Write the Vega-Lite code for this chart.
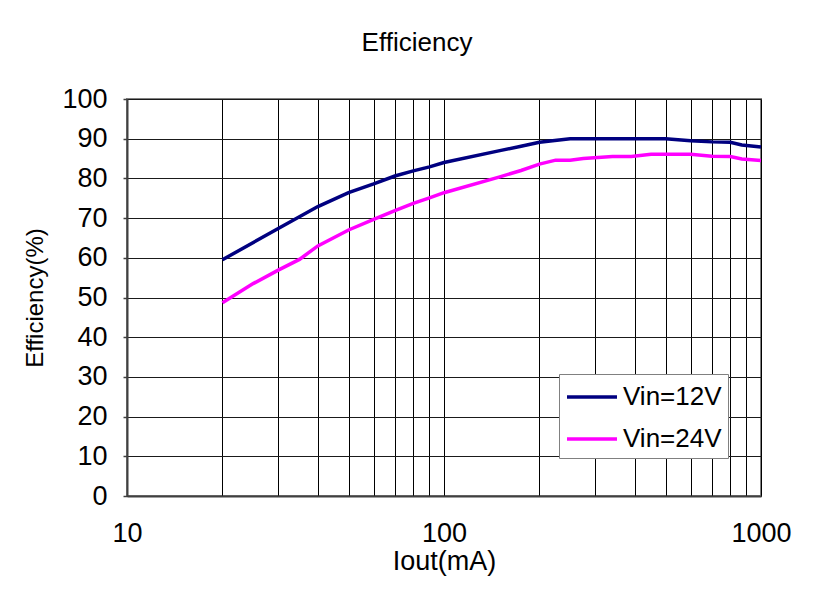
{
  "$schema": "https://vega.github.io/schema/vega-lite/v6.json",
  "autosize": {"type": "none"},
  "width": 634,
  "height": 397,
  "padding": {"left": 127, "top": 99, "right": 52, "bottom": 98},
  "background": "white",
  "config": {
    "font": "Liberation Sans",
    "view": {"stroke": "#808080", "strokeWidth": 2}
  },
  "title": {"text": "Efficiency", "fontSize": 26, "fontWeight": "normal", "color": "#000", "offset": 29, "dx": -27, "anchor": "middle", "frame": "group"},
  "data": {
    "values": [
      {"Iout": 20, "Eff": 59.5, "Series": "Vin=12V"},
      {"Iout": 30, "Eff": 67.4, "Series": "Vin=12V"},
      {"Iout": 40, "Eff": 72.9, "Series": "Vin=12V"},
      {"Iout": 50, "Eff": 76.4, "Series": "Vin=12V"},
      {"Iout": 60, "Eff": 78.6, "Series": "Vin=12V"},
      {"Iout": 70, "Eff": 80.6, "Series": "Vin=12V"},
      {"Iout": 80, "Eff": 81.9, "Series": "Vin=12V"},
      {"Iout": 90, "Eff": 82.9, "Series": "Vin=12V"},
      {"Iout": 100, "Eff": 84.0, "Series": "Vin=12V"},
      {"Iout": 150, "Eff": 87.0, "Series": "Vin=12V"},
      {"Iout": 175, "Eff": 88.1, "Series": "Vin=12V"},
      {"Iout": 200, "Eff": 89.1, "Series": "Vin=12V"},
      {"Iout": 250, "Eff": 90.0, "Series": "Vin=12V"},
      {"Iout": 300, "Eff": 90.0, "Series": "Vin=12V"},
      {"Iout": 400, "Eff": 90.0, "Series": "Vin=12V"},
      {"Iout": 500, "Eff": 90.0, "Series": "Vin=12V"},
      {"Iout": 600, "Eff": 89.5, "Series": "Vin=12V"},
      {"Iout": 700, "Eff": 89.2, "Series": "Vin=12V"},
      {"Iout": 800, "Eff": 89.1, "Series": "Vin=12V"},
      {"Iout": 870, "Eff": 88.4, "Series": "Vin=12V"},
      {"Iout": 1000, "Eff": 87.9, "Series": "Vin=12V"},
      {"Iout": 20, "Eff": 48.7, "Series": "Vin=24V"},
      {"Iout": 25, "Eff": 53.5, "Series": "Vin=24V"},
      {"Iout": 30, "Eff": 56.9, "Series": "Vin=24V"},
      {"Iout": 35, "Eff": 59.6, "Series": "Vin=24V"},
      {"Iout": 40, "Eff": 63.0, "Series": "Vin=24V"},
      {"Iout": 50, "Eff": 67.0, "Series": "Vin=24V"},
      {"Iout": 60, "Eff": 69.7, "Series": "Vin=24V"},
      {"Iout": 70, "Eff": 71.9, "Series": "Vin=24V"},
      {"Iout": 80, "Eff": 73.7, "Series": "Vin=24V"},
      {"Iout": 90, "Eff": 75.1, "Series": "Vin=24V"},
      {"Iout": 100, "Eff": 76.4, "Series": "Vin=24V"},
      {"Iout": 150, "Eff": 80.4, "Series": "Vin=24V"},
      {"Iout": 175, "Eff": 82.0, "Series": "Vin=24V"},
      {"Iout": 200, "Eff": 83.6, "Series": "Vin=24V"},
      {"Iout": 225, "Eff": 84.6, "Series": "Vin=24V"},
      {"Iout": 250, "Eff": 84.6, "Series": "Vin=24V"},
      {"Iout": 275, "Eff": 85.0, "Series": "Vin=24V"},
      {"Iout": 340, "Eff": 85.5, "Series": "Vin=24V"},
      {"Iout": 390, "Eff": 85.5, "Series": "Vin=24V"},
      {"Iout": 450, "Eff": 86.1, "Series": "Vin=24V"},
      {"Iout": 600, "Eff": 86.1, "Series": "Vin=24V"},
      {"Iout": 700, "Eff": 85.6, "Series": "Vin=24V"},
      {"Iout": 800, "Eff": 85.5, "Series": "Vin=24V"},
      {"Iout": 870, "Eff": 84.9, "Series": "Vin=24V"},
      {"Iout": 1000, "Eff": 84.5, "Series": "Vin=24V"}
    ]
  },
  "mark": {"type": "line", "strokeWidth": 3.5},
  "encoding": {
    "x": {
      "field": "Iout", "type": "quantitative",
      "scale": {"type": "log", "domain": [10, 1000], "nice": false},
      "axis": {
        "title": "Iout(mA)",
        "values": [10, 20, 30, 40, 50, 60, 70, 80, 90, 100, 200, 300, 400, 500, 600, 700, 800, 900, 1000],
        "labelExpr": "datum.value == 10 || datum.value == 100 || datum.value == 1000 ? datum.label : ''",
        "format": "d",
        "labelFontSize": 27, "labelColor": "#000", "labelPadding": 24, "labelFlush": false, "labelOverlap": false,
        "ticks": false,
        "grid": true, "gridColor": "#000", "gridWidth": 1, "gridOpacity": 1,
        "domainColor": "#404040", "domainWidth": 2,
        "titleFontSize": 27, "titleFontWeight": "normal", "titleColor": "#000", "titlePadding": 2
      }
    },
    "y": {
      "field": "Eff", "type": "quantitative",
      "scale": {"domain": [0, 100], "nice": false},
      "axis": {
        "title": "Efficiency(%)",
        "values": [0, 10, 20, 30, 40, 50, 60, 70, 80, 90, 100],
        "labelFontSize": 27, "labelColor": "#000", "labelPadding": 16,
        "ticks": true, "tickSize": 4, "tickColor": "#404040", "tickWidth": 1.5,
        "grid": true, "gridColor": "#1a1a1a", "gridWidth": 1, "gridOpacity": 1,
        "domainColor": "#404040", "domainWidth": 2,
        "titleFontSize": 24, "titleFontWeight": "normal", "titleColor": "#000", "titlePadding": 14
      }
    },
    "color": {
      "field": "Series", "type": "nominal",
      "scale": {"domain": ["Vin=12V", "Vin=24V"], "range": ["#000080", "#ff00ff"]},
      "legend": {
        "title": null,
        "orient": "none", "legendX": 432, "legendY": 275,
        "fillColor": "white", "strokeColor": "#808080",
        "padding": 6,
        "symbolType": "M-1,0L2.333,0",
        "symbolSize": 900, "symbolStrokeWidth": 3.5,
        "labelFontSize": 26, "labelColor": "#000", "labelOffset": 24,
        "rowPadding": 12
      }
    }
  }
}
